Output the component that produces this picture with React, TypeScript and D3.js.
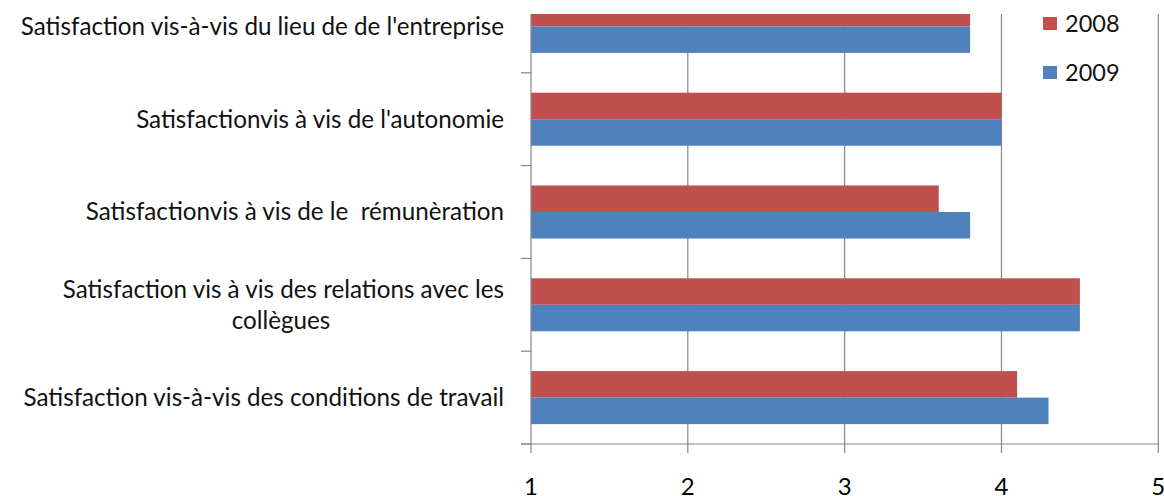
import React, { useEffect } from "react";
import * as d3 from "d3";

const categories: string[][] = [
  ["Satisfaction vis-à-vis du lieu de de l'entreprise"],
  ["Satisfactionvis à vis de l'autonomie"],
  ["Satisfactionvis à vis de le  rémunèration"],
  ["Satisfaction vis à vis des relations avec les", "collègues"],
  ["Satisfaction vis-à-vis des conditions de travail"],
];
const seriesNames = ["2008", "2009"];
const values2008 = [3.8, 4.0, 3.6, 4.5, 4.1];
const values2009 = [3.8, 4.0, 3.8, 4.5, 4.3];
const xTicks = [1, 2, 3, 4, 5];

const W = 1164;
const H = 496;
const plotLeft = 531;
const plotRight = 1158.3;
const plotTop = 14;
const plotBottom = 444;
const bandH = 92.8;
const colors: Record<string, string> = { "2008": "#C0504D", "2009": "#4F81BD" };
const axisColor = "#868686";
const font = "Lato, 'Open Sans', sans-serif";
const labelSize = 24.2;

export default function App() {
  useEffect(() => {
    document.body.style.margin = "0";
  }, []);

  const keys = categories.map((_, i) => String(i));
  const x = d3.scaleLinear().domain([1, 5]).range([plotLeft, plotRight]);
  const y = d3
    .scaleBand<string>()
    .domain(keys)
    .range([plotBottom - bandH * keys.length, plotBottom]);
  const y1 = d3
    .scaleBand<string>()
    .domain(seriesNames)
    .range([0, y.bandwidth()])
    .paddingInner(0)
    .paddingOuter(0.75);

  const data = keys.map((k, i) => ({ k, lines: categories[i], v: { "2008": values2008[i], "2009": values2009[i] } as Record<string, number> }));

  return (
    <svg width={W} height={H} style={{ display: "block", position: "absolute", left: 0, top: 0, background: "#fff" }}>
      <defs>
        <clipPath id="plotclip">
          <rect x={plotLeft} y={plotTop} width={plotRight - plotLeft + 2} height={plotBottom - plotTop} />
        </clipPath>
      </defs>
      {xTicks.slice(1).map((t) => (
        <line key={"g" + t} x1={x(t)} x2={x(t)} y1={plotTop} y2={plotBottom} stroke={axisColor} strokeWidth={1.2} />
      ))}
      <g clipPath="url(#plotclip)">
        {data.map((d) =>
          seriesNames.map((s) => (
            <rect
              key={d.k + s}
              x={x(1)}
              y={(y(d.k) as number) + (y1(s) as number)}
              width={x(d.v[s]) - x(1)}
              height={y1.bandwidth()}
              fill={colors[s]}
            />
          ))
        )}
      </g>
      <line x1={plotLeft} x2={plotLeft} y1={plotTop} y2={plotBottom} stroke={axisColor} strokeWidth={1.2} />
      {keys.map((k) => {
        const yy = (y(k) as number) + y.bandwidth();
        return yy >= plotTop ? (
          <line key={"yt" + k} x1={plotLeft - 10} x2={plotLeft} y1={yy} y2={yy} stroke={axisColor} strokeWidth={1.2} />
        ) : null;
      })}
      <line x1={plotLeft - 10} x2={plotRight} y1={plotBottom} y2={plotBottom} stroke={axisColor} strokeWidth={1.2} />
      {xTicks.map((t) => (
        <g key={"xt" + t}>
          <line x1={x(t)} x2={x(t)} y1={plotBottom} y2={plotBottom + 9} stroke={axisColor} strokeWidth={1.2} />
          <text x={x(t)} y={495} textAnchor="middle" fontFamily={font} fontSize={24} fill="#000">
            {t}
          </text>
        </g>
      ))}
      {data.map((d) => {
        const cy = (y(d.k) as number) + y.bandwidth() / 2;
        const lh = 31;
        const n = d.lines.length;
        if (n === 1) {
          return (
            <text key={"l" + d.k} x={504} y={cy} dy="0.35em" textAnchor="end" fontFamily={font} fontSize={labelSize} fill="#111" style={{ whiteSpace: "pre" }}>
              {d.lines[0]}
            </text>
          );
        }
        return (
          <text key={"l" + d.k} x={504} y={cy} textAnchor="end" fontFamily={font} fontSize={labelSize} fill="#111" style={{ whiteSpace: "pre" }}>
            <tspan x={504} y={cy - lh / 2} dy="0.35em">{d.lines[0]}</tspan>
            <tspan x={281} y={cy + lh / 2} dy="0.35em" textAnchor="middle">{d.lines[1]}</tspan>
          </text>
        );
      })}
      {seriesNames.map((s, i) => (
        <g key={"lg" + s} transform={`translate(1043, ${17 + i * 49})`}>
          <rect x={0} y={0} width={14} height={13} fill={colors[s]} />
          <text x={22} y={6.5} dy="0.35em" fontFamily={font} fontSize={23.5} fill="#111">
            {s}
          </text>
        </g>
      ))}
    </svg>
  );
}
